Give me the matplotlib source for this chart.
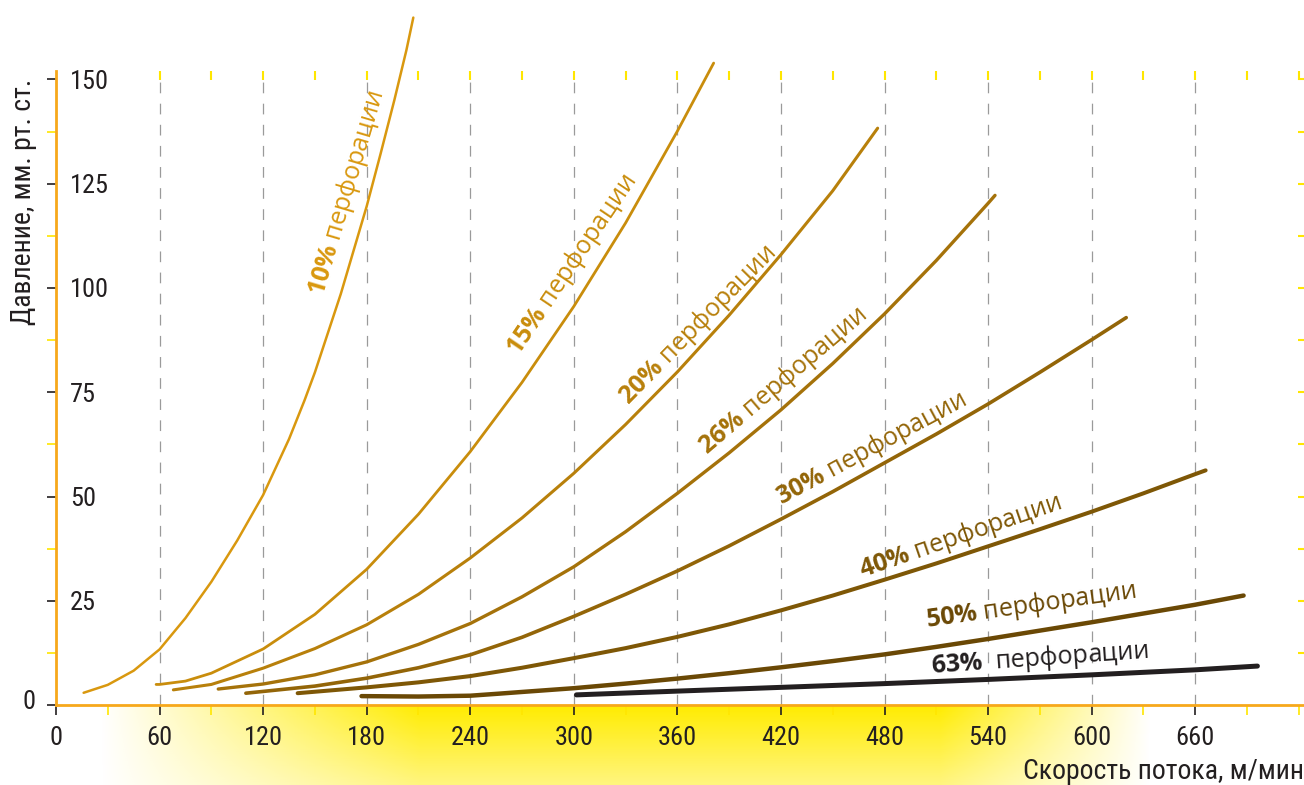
import numpy as np
import matplotlib
matplotlib.use("Agg")
import matplotlib.pyplot as plt
from matplotlib import font_manager as fm
import matplotlib.transforms as mtransforms

# ---------------- data ----------------
x10 = [16, 30, 45, 60, 75, 90, 105, 120, 135, 144, 150, 165, 180, 188, 196, 203, 207]
y10 = [3.0, 4.9, 8.3, 13.4, 20.9, 29.6, 39.5, 50.4, 63.8, 73.1, 79.8, 98.6, 119.6, 132.1, 145.0, 157.0, 164.8]

x15 = [58, 60, 75, 90, 120, 150, 180, 210, 240, 270, 300, 330, 360, 381]
y15 = [5.0, 5.0, 5.8, 7.7, 13.5, 21.8, 32.6, 45.8, 60.8, 77.4, 95.6, 115.6, 137.6, 153.9]

x20 = [68, 90, 120, 150, 180, 210, 240, 270, 300, 330, 360, 390, 420, 450, 476]
y20 = [3.7, 5.0, 8.9, 13.6, 19.3, 26.6, 35.3, 44.9, 55.6, 67.3, 79.9, 93.5, 108.0, 123.3, 138.3]

x26 = [94, 120, 150, 180, 210, 240, 270, 300, 330, 360, 390, 420, 450, 480, 510, 540, 544]
y26 = [3.9, 5.1, 7.3, 10.4, 14.6, 19.6, 26.0, 33.2, 41.6, 50.8, 60.5, 70.8, 81.9, 93.8, 106.6, 120.3, 122.2]

x30 = [110, 150, 180, 210, 240, 270, 300, 330, 360, 390, 420, 450, 480, 510, 540, 570, 600, 620]
y30 = [2.9, 4.6, 6.5, 9.0, 12.1, 16.3, 21.3, 26.6, 32.2, 38.2, 44.6, 51.2, 58.1, 65.0, 72.2, 79.8, 87.6, 92.9]

x40 = [140, 180, 210, 240, 270, 300, 330, 360, 390, 420, 450, 480, 510, 540, 570, 600, 630, 660, 666]
y40 = [2.9, 4.3, 5.5, 7.0, 9.0, 11.3, 13.7, 16.4, 19.4, 22.75, 26.3, 30.1, 34.0, 38.1, 42.2, 46.4, 50.8, 55.4, 56.3]

x50 = [177, 210, 240, 257, 270, 300, 330, 360, 390, 420, 450, 480, 510, 540, 570, 600, 630, 660, 688]
y50 = [2.2, 2.1, 2.3, 2.8, 3.2, 4.1, 5.2, 6.4, 7.7, 9.1, 10.6, 12.2, 14.0, 15.9, 17.9, 19.9, 22.0, 24.1, 26.3]

x63 = [301.5, 360, 420, 480, 540, 600, 660, 696]
y63 = [2.5, 3.4, 4.3, 5.2, 6.2, 7.3, 8.5, 9.4]

series_pct = ["10%", "15%", "20%", "26%", "30%", "40%", "50%", "63%"]
label_word = "перфорации"

x_major = [0, 60, 120, 180, 240, 300, 360, 420, 480, 540, 600, 660]
x_minor = [30, 90, 150, 210, 270, 330, 390, 450, 510, 570, 630, 690, 720]
x_top = [60, 90, 120, 150, 180, 210, 240, 270, 300, 330, 360, 390, 420, 450,
         480, 510, 540, 570, 600, 630, 660, 690, 720]
y_major = [0, 25, 50, 75, 100, 125, 150]
y_minor = [12.5, 37.5, 62.5, 87.5, 112.5, 137.5]
y_right = [12.5, 25, 37.5, 50, 62.5, 75, 87.5, 100, 112.5, 125, 137.5, 150]
grid_x = [60, 120, 180, 240, 300, 360, 420, 480, 540, 600, 660]

xlabel = "Скорость потока, м/мин"
ylabel = "Давление, мм. рт. ст."

# ---------------- style ----------------
def pick(names):
    for n in names:
        try:
            fm.findfont(fm.FontProperties(family=n), fallback_to_default=False)
            return n
        except Exception:
            pass
    return "DejaVu Sans"

cond = pick(["Liberation Sans Narrow", "Roboto Condensed", "Open Sans Condensed", "Roboto"])
plt.rcParams["mathtext.fontset"] = "custom"
plt.rcParams["mathtext.bf"] = "Open Sans:bold"
plt.rcParams["mathtext.rm"] = "Open Sans"
plt.rcParams["lines.scale_dashes"] = False

ORANGE = "#F7A81B"
YEL = "#FFE600"
BLK = "#231F20"
colors = ["#D9980F", "#C98D0C", "#B8800B", "#A5720A", "#936508", "#7E5706", "#6A4805", "#231F20"]
widths = [1.8, 2.0, 2.2, 2.4, 2.6, 2.9, 3.2, 3.6]

W, H = 1304, 785
fig = plt.figure(figsize=(W / 100, H / 100), dpi=100)
fig.patch.set_facecolor("white")

# gradient band below x axis (decoration)
ax_bottom_px = 705.3
gax = fig.add_axes([0, 0, 1, (H - ax_bottom_px) / H])
gax.set_zorder(-1)
gh = int(H - ax_bottom_px)
px = np.arange(W)
hprof = np.interp(px, [100, 420, 940, 1150], [0, 1, 1, 0])
vprof = np.interp(np.arange(gh), [0, gh], [1.0, 0.5])
alpha = vprof[:, None] * hprof[None, :]
img = np.zeros((gh, W, 4))
img[..., 0] = 1.0
img[..., 1] = 236 / 255
img[..., 2] = 0.0
img[..., 3] = alpha
gax.imshow(img, aspect="auto", extent=[0, 1, 0, 1], interpolation="bilinear")
gax.axis("off")

ax = fig.add_axes([56 / W, (H - ax_bottom_px) / H, (W - 56) / W, (ax_bottom_px - 71) / H])
ax.set_facecolor("none")
ax.set_xlim(0, 723)
ax.set_ylim(0, 152)

for s in ["top", "right"]:
    ax.spines[s].set_visible(False)
for s in ["left", "bottom"]:
    ax.spines[s].set_color(ORANGE)
    ax.spines[s].set_linewidth(2.0)
ax.spines["left"].set_zorder(5)

ax.vlines(grid_x, 0, 150, colors="#9A9A9A", linewidth=0.9, linestyles=(0, (7.7, 7.5)), zorder=1)

# ticks
ax.set_xticks(x_major)
ax.set_xticks(x_minor, minor=True)
ax.set_yticks(y_major)
ax.set_yticks(y_minor, minor=True)
ax.tick_params(axis="x", which="major", direction="out", length=7, width=1.2, color=BLK,
               labelsize=19, labelcolor=BLK, pad=8)
ax.tick_params(axis="x", which="minor", direction="out", length=7, width=1.2, color=YEL)
ax.tick_params(axis="y", which="major", direction="out", length=6.5, width=1.2, color=BLK,
               labelsize=19, labelcolor=BLK, pad=-16.6)
ax.tick_params(axis="y", which="minor", direction="out", length=6.5, width=1.2, color=YEL)
ax.set_xticklabels([str(v) for v in x_major], fontfamily=cond)
ax.set_yticklabels(["" if v == 0 else str(v) for v in y_major], fontfamily=cond)
for lab in ax.get_yticklabels():
    lab.set_horizontalalignment("left")

off = mtransforms.offset_copy(ax.transData, fig=fig, x=-20, y=3, units="dots")
ax.text(0, 0, "0", transform=off, ha="right", va="center", fontsize=19,
        fontfamily=cond, color=BLK)

# top & right yellow ticks
axt = ax.twiny()
axt.set_xlim(ax.get_xlim())
axt.set_xticks(x_top)
axt.tick_params(axis="x", direction="in", length=6.5, width=1.5, color=YEL, labeltop=False)
for s in axt.spines.values():
    s.set_visible(False)
axr = ax.twinx()
axr.set_ylim(ax.get_ylim())
axr.set_yticks(y_right)
axr.tick_params(axis="y", direction="in", length=4.5, width=1.5, color=YEL, labelright=False)
for s in axr.spines.values():
    s.set_visible(False)
axt.set_zorder(0)
axr.set_zorder(0)

# curves
xs = [x10, x15, x20, x26, x30, x40, x50, x63]
ys = [y10, y15, y20, y26, y30, y40, y50, y63]
for xx, yy, c, w in zip(xs, ys, colors, widths):
    ax.plot(xx, yy, color=c, linewidth=w, solid_capstyle="round",
            solid_joinstyle="round", clip_on=False, zorder=4)

# curve labels (centre x, centre y, rotation)
lab_pos = [(168.5, 122.7, 73.5), (298.8, 105.5, 56.0), (371.4, 91.1, 45.5),
           (421.0, 77.7, 40.5), (472.0, 61.6, 28.3), (523.7, 40.6, 19.0),
           (565.0, 24.0, 8.0), (570.0, 11.3, 4.0)]
for pct, (lx, ly, rot), c in zip(series_pct, lab_pos, colors):
    sep = "  " if pct == "63%" else " "
    txt = r"$\mathbf{" + pct.replace("%", r"\%") + "}$" + sep + label_word
    ax.text(lx, ly, txt, color=c, fontsize=18, fontfamily="Open Sans",
            rotation=rot, rotation_mode="anchor", ha="center", va="center", zorder=6)

# axis titles
fig.text(1.0, (H - 779) / H, xlabel, ha="right", va="baseline", fontsize=20,
         fontfamily=cond, color=BLK)
fig.text(24 / W, (H - 202) / H, ylabel, ha="center", va="center", rotation=90,
         fontsize=20, fontfamily=cond, color=BLK)

fig.savefig("out.png", dpi=100)
